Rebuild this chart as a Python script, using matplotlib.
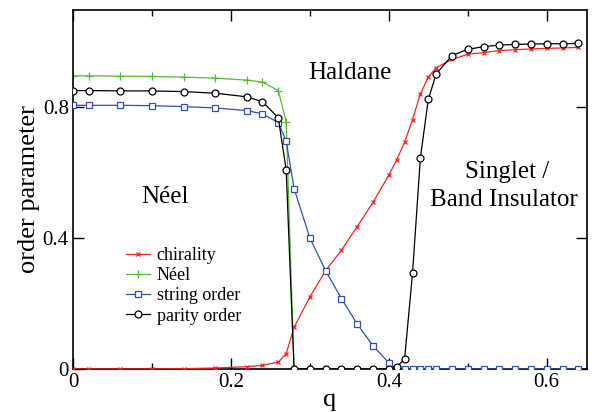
import matplotlib
matplotlib.use("Agg")
import matplotlib.pyplot as plt
from matplotlib.ticker import MultipleLocator, FixedLocator

plt.rcParams['font.family'] = 'serif'
plt.rcParams['font.serif'] = ['Liberation Serif', 'DejaVu Serif']

# ---- data ----
q_chir = [0.0, 0.02, 0.06, 0.10, 0.14, 0.18, 0.22, 0.24, 0.26, 0.27, 0.28, 0.30, 0.32, 0.34,
          0.36, 0.38, 0.40, 0.41, 0.42, 0.43, 0.44, 0.45, 0.46, 0.48, 0.50, 0.52, 0.54, 0.56,
          0.58, 0.60, 0.62, 0.64]
chirality = [0.0, 0.0, 0.0, 0.0, 0.001, 0.003, 0.007, 0.011, 0.021, 0.047, 0.127, 0.22, 0.30,
             0.363, 0.435, 0.509, 0.592, 0.639, 0.692, 0.761, 0.840, 0.891, 0.920, 0.945, 0.961,
             0.966, 0.972, 0.975, 0.977, 0.979, 0.980, 0.982]

q_neel = [0.0, 0.02, 0.06, 0.10, 0.14, 0.18, 0.22, 0.24, 0.26, 0.27, 0.28]
neel = [0.895, 0.895, 0.894, 0.893, 0.891, 0.888, 0.882, 0.876, 0.85, 0.755, 0.0]

q_str = [0.0, 0.02, 0.06, 0.10, 0.14, 0.18, 0.22, 0.24, 0.26, 0.27, 0.28, 0.30, 0.32, 0.34,
         0.36, 0.38, 0.40, 0.41, 0.42, 0.43, 0.44, 0.45, 0.46, 0.48, 0.50, 0.52, 0.54, 0.56,
         0.58, 0.60, 0.62, 0.64]
string_order = [0.805, 0.805, 0.805, 0.804, 0.801, 0.797, 0.789, 0.779, 0.752, 0.696, 0.551,
                0.400, 0.300, 0.215, 0.137, 0.071, 0.019, 0.0, 0.0, 0.0, 0.0, 0.0, 0.0, 0.0,
                0.0, 0.0, 0.0, 0.0, 0.0, 0.0, 0.0, 0.0]

q_par = [0.0, 0.02, 0.06, 0.10, 0.14, 0.18, 0.22, 0.24, 0.26, 0.27, 0.28, 0.30, 0.32, 0.34,
         0.36, 0.38, 0.40, 0.41, 0.42, 0.43, 0.44, 0.45, 0.46, 0.48, 0.50, 0.52, 0.54, 0.56,
         0.58, 0.60, 0.62, 0.64]
parity_order = [0.850, 0.850, 0.849, 0.849, 0.847, 0.842, 0.831, 0.816, 0.767, 0.608, 0.0,
                0.0, 0.0, 0.0, 0.0, 0.0, 0.0, 0.006, 0.031, 0.292, 0.645, 0.823, 0.901, 0.957,
                0.976, 0.984, 0.989, 0.991, 0.992, 0.993, 0.993, 0.994]

labels = ['chirality', 'Néel', 'string order', 'parity order']

# ---- figure ----
W, H = 599, 412
fig = plt.figure(figsize=(W / 100, H / 100), dpi=100)
ax = fig.add_axes([73 / W, (H - 369) / H, (587 - 73) / W, (369 - 10) / H])

lw = 0.9
ax.plot(q_neel, neel, color='#55bb33', lw=lw, marker='+', ms=5.5, mew=0.9, label=labels[1], zorder=2)
ax.plot(q_chir, chirality, color='#ff2020', lw=lw, marker='x', ms=3.5, mew=0.9, label=labels[0], zorder=3)
ax.plot(q_str, string_order, color='#3050b0', lw=lw, marker='s', ms=4.2, mew=0.9,
        mfc='white', label=labels[2], zorder=4)
ax.plot(q_par, parity_order, color='black', lw=lw, marker='o', ms=5, mew=0.9,
        mfc='white', label=labels[3], zorder=5)

ax.set_xlim(0, 0.651)
ax.set_ylim(0, 1.096)

ax.xaxis.set_major_locator(FixedLocator([0, 0.2, 0.4, 0.6]))
ax.xaxis.set_minor_locator(MultipleLocator(0.1))
ax.yaxis.set_major_locator(FixedLocator([0, 0.4, 0.8]))
ax.set_xticklabels(['0', '0.2', '0.4', '0.6'])
ax.set_yticklabels(['0', '0.4', '0.8'])
ax.tick_params(which='both', direction='in', top=True, right=True, labelsize=15, width=1.0)
ax.tick_params(which='major', length=8, pad=3)
ax.tick_params(which='minor', length=4)
for s in ax.spines.values():
    s.set_linewidth(1.2)

ax.set_xlabel('q', fontsize=19, labelpad=-2)
ax.set_ylabel('order parameter', fontsize=19, labelpad=2)

# annotations
def axpt(px, py):
    return ((px - 73) / (587 - 73), (369 - py) / (369 - 10))

ax.text(*axpt(350, 73), 'Haldane', transform=ax.transAxes, fontsize=18, ha='center', va='center')
ax.text(*axpt(165, 197), 'Néel', transform=ax.transAxes, fontsize=18, ha='center', va='center')
ax.text(*axpt(507, 172), 'Singlet /', transform=ax.transAxes, fontsize=18, ha='center', va='center')
ax.text(*axpt(504, 200), 'Band Insulator', transform=ax.transAxes, fontsize=18, ha='center', va='center')

handles, labs = ax.get_legend_handles_labels()
order = [labs.index(l) for l in labels]
ax.legend([handles[i] for i in order], [labs[i] for i in order],
          loc='upper left', bbox_to_anchor=axpt(126, 247), frameon=False,
          fontsize=13, handlelength=1.35, handletextpad=0.35, labelspacing=0.18,
          borderpad=0, borderaxespad=0)

fig.savefig('out.png', dpi=100)
